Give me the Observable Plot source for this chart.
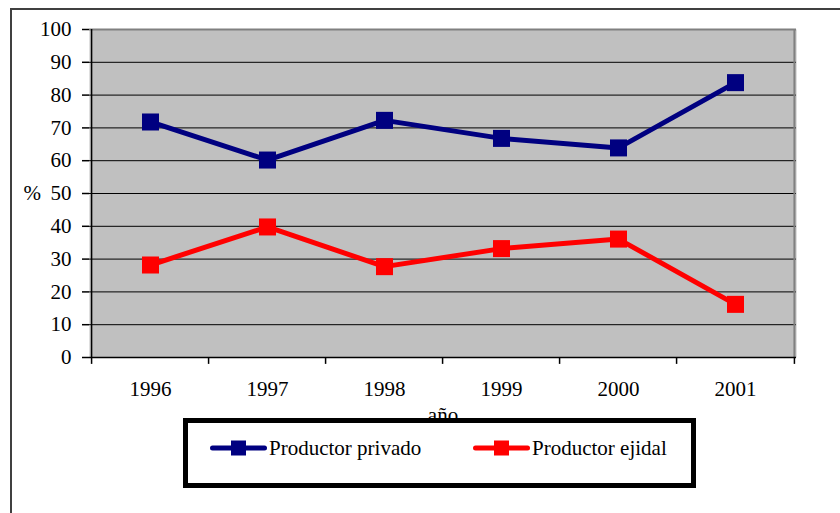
<!DOCTYPE html>
<html>
<head>
<meta charset="utf-8">
<script src="https://cdn.jsdelivr.net/npm/d3@7"></script>
<script src="https://cdn.jsdelivr.net/npm/@observablehq/plot@0.6"></script>
<style>
  html, body { margin: 0; padding: 0; background: #ffffff; }
  #wrap { position: relative; width: 840px; height: 513px; overflow: hidden; font-family: "Liberation Serif", "Times New Roman", "DejaVu Serif", serif; }
  #chart { position: absolute; left: 0; top: 0; }
  #chart svg, #chart svg text { font-family: "Liberation Serif", "Times New Roman", "DejaVu Serif", serif; }
  .frameTop { position: absolute; left: 10px; top: 8px; width: 840px; height: 2px; background: #404040; }
  .frameLeft { position: absolute; left: 10px; top: 8px; width: 2px; height: 520px; background: #404040; }
  #legend { position: absolute; left: 183px; top: 418px; width: 513px; height: 70px; box-sizing: border-box; border: 5px solid #000; background: #fff; }
  .item { position: absolute; top: 13px; height: 24px; display: flex; align-items: center; font-size: 21px; color: #000; white-space: nowrap; font-family: "Liberation Serif", "Times New Roman", "DejaVu Serif", serif; }
  .item svg { margin-right: 2px; }
</style>
</head>
<body>
<div id="wrap">
  <div id="chart"></div>
  <div class="frameTop"></div>
  <div class="frameLeft"></div>
  <div id="legend"></div>
</div>
<script>
const years = ["1996", "1997", "1998", "1999", "2000", "2001"];
const privado = [71.8, 60.2, 72.3, 66.8, 63.9, 83.8];
const ejidal = [28.2, 39.8, 27.7, 33.2, 36.1, 16.2];
const yTicks = [0, 10, 20, 30, 40, 50, 60, 70, 80, 90, 100];
const gridTicks = [10, 20, 30, 40, 50, 60, 70, 80, 90];
const seriesNames = ["Productor privado", "Productor ejidal"];
const seriesColors = ["#000080", "#ff0000"];
const xLabel = "año";
const yLabel = "%";

const W = 840, H = 513;
const mL = 89, mR = 44, mT = 29, mB = 156;
const step = (W - mL - mR) / years.length;

const data = [];
years.forEach((y, i) => data.push({year: y, value: privado[i], series: seriesNames[0]}));
years.forEach((y, i) => data.push({year: y, value: ejidal[i], series: seriesNames[1]}));

const font = "'Liberation Serif', 'Times New Roman', 'DejaVu Serif', serif";

const chart = Plot.plot({
  width: W,
  height: H,
  marginLeft: mL,
  marginRight: mR,
  marginTop: mT,
  marginBottom: mB,
  style: {fontFamily: font, fontSize: "21px", color: "#000", background: "transparent", overflow: "visible"},
  x: {type: "point", domain: years, padding: 0.5},
  y: {domain: [0, 100]},
  color: {domain: seriesNames, range: seriesColors},
  marks: [
    Plot.frame({fill: "#c0c0c0", stroke: null}),
    Plot.ruleY(gridTicks, {stroke: "#000", strokeWidth: 1}),
    Plot.ruleY([100], {stroke: "#808080", strokeWidth: 2}),
    Plot.ruleX([years[years.length - 1]], {dx: step / 2, stroke: "#808080", strokeWidth: 2}),
    Plot.ruleX([years[0]], {dx: -step / 2, stroke: "#000", strokeWidth: 1.5}),
    Plot.ruleY([0], {stroke: "#000", strokeWidth: 1.5}),
    Plot.ruleX(years, {dx: -step / 2, y1: 0, y2: -2.1, stroke: "#000", strokeWidth: 1.5}),
    Plot.ruleX([years[years.length - 1]], {dx: step / 2, y1: 0, y2: -2.1, stroke: "#000", strokeWidth: 1.5}),
    Plot.axisY({ticks: yTicks, tickSize: 7, tickPadding: 11, fontSize: 21, fontFamily: font, label: null, stroke: "#000", strokeWidth: 1.5}),
    Plot.axisX({tickSize: 0, tickPadding: 24, fontSize: 21, fontFamily: font, label: null}),
    Plot.text([yLabel], {frameAnchor: "left", y: [50], text: d => d, dx: -66, fontSize: 21, fontFamily: font, fill: "#000"}),
    Plot.text([xLabel], {frameAnchor: "bottom", lineAnchor: "middle", text: d => d, dy: 58, fontSize: 21, fontFamily: font, fill: "#000"}),
    Plot.line(data, {x: "year", y: "value", stroke: "series", strokeWidth: 5}),
    Plot.dot(data, {x: "year", y: "value", fill: "series", symbol: "square", r: 9.6, stroke: null})
  ]
});
document.getElementById("chart").appendChild(chart);

// legend
const legend = document.getElementById("legend");
const offsets = [22, 285];
seriesNames.forEach((name, i) => {
  const item = document.createElement("div");
  item.className = "item";
  item.style.left = offsets[i] + "px";
  const c = seriesColors[i];
  item.innerHTML =
    `<svg width="57" height="20" viewBox="0 0 57 20">
       <line x1="2.5" y1="10" x2="54.5" y2="10" stroke="${c}" stroke-width="5" stroke-linecap="round"/>
       <rect x="21" y="2.5" width="15" height="15" fill="${c}"/>
     </svg><span>${name}</span>`;
  legend.appendChild(item);
});
</script>
</body>
</html>
